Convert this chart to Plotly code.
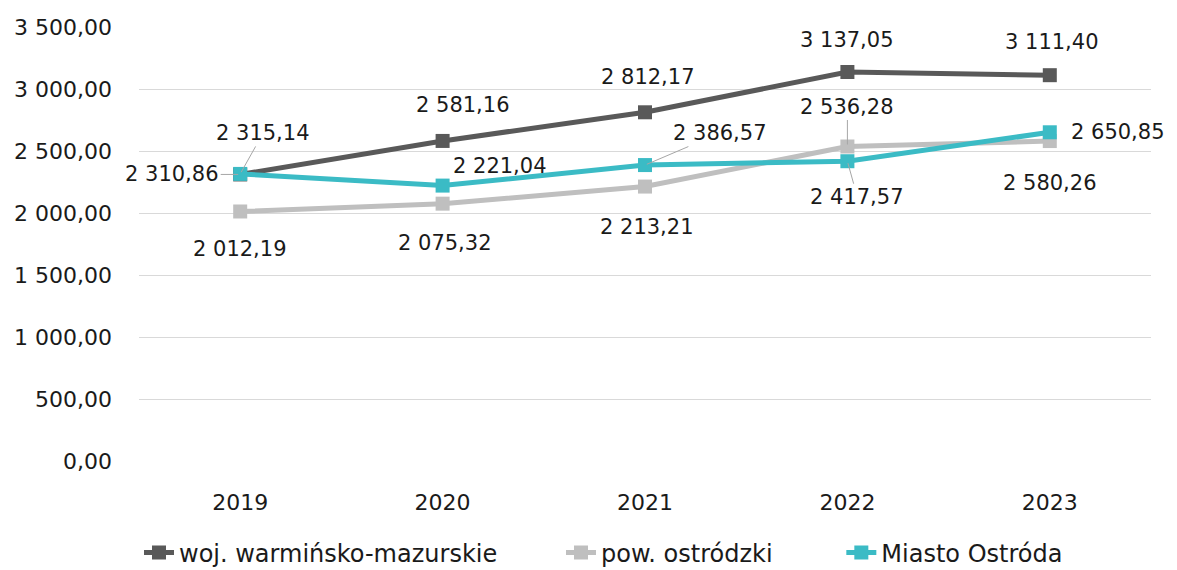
import plotly.graph_objects as go

years = ["2019", "2020", "2021", "2022", "2023"]
woj = [2310.86, 2581.16, 2812.17, 3137.05, 3111.40]
pow_ = [2012.19, 2075.32, 2213.21, 2536.28, 2580.26]
miasto = [2315.14, 2221.04, 2386.57, 2417.57, 2650.85]
names = ["woj. warmińsko-mazurskie", "pow. ostródzki", "Miasto Ostróda"]

colors = ["#595959", "#BFBFBF", "#3BBBC5"]
FONT = "DejaVu Sans"
FS = 21

def fmt(v):
    s = f"{v:,.2f}"
    return s.replace(",", " ").replace(".", ",")

legend_ids = ["legend", "legend2", "legend3"]
legend_x = [0.0, 0.417, 0.694]

fig = go.Figure()
for name, vals, col, lid in zip(names, [woj, pow_, miasto], colors, legend_ids):
    fig.add_trace(go.Scatter(
        x=years, y=vals, name=name, mode="lines+markers",
        line=dict(color=col, width=5),
        marker=dict(symbol="square", size=14, color=col),
        legend=lid,
    ))

# label offsets (dx, dy in px, leader)
offsets = {
    0: [(-68, 0, True), (20, -36, False), (3, -35, False), (0, -32, False), (2, -33, False)],
    1: [(0, 38, False), (2, 39, False), (2, 40, False), (0, -40, True), (0, 42, False)],
    2: [(23, -41, True), (57, -20, False), (75, -32, True), (10, 36, True), (68, 0, False)],
}
annotations = []
for si, vals in enumerate([woj, pow_, miasto]):
    for i, v in enumerate(vals):
        dx, dy, leader = offsets[si][i]
        if leader:
            annotations.append(dict(x=i, y=v, xref="x", yref="y", text=fmt(v),
                                    showarrow=True, ax=dx, ay=dy, arrowhead=0,
                                    arrowwidth=1, arrowcolor="#A6A6A6", standoff=2,
                                    font=dict(family=FONT, size=FS, color="#1a1a1a")))
        else:
            annotations.append(dict(x=i, y=v, xref="x", yref="y", text=fmt(v),
                                    showarrow=False, xshift=dx, yshift=-dy,
                                    font=dict(family=FONT, size=FS, color="#1a1a1a")))

legend_common = dict(orientation="h", xanchor="left", y=-0.16, yanchor="top",
                     font=dict(size=24), bgcolor="rgba(0,0,0,0)")

fig.update_layout(
    width=1169, height=562,
    margin=dict(l=131, r=26, t=19, b=109, autoexpand=False),
    paper_bgcolor="white", plot_bgcolor="white",
    separators=", ",
    font=dict(family=FONT, size=FS, color="#1a1a1a"),
    xaxis=dict(type="category", range=[-0.5, 4.5], showgrid=False, showline=False, ticks="",
               tickfont=dict(size=22), ticklabelstandoff=26, automargin=False),
    yaxis=dict(range=[0, 3500], dtick=500, tickformat=",.2f", gridcolor="#D9D9D9",
               gridwidth=1, zeroline=False, showline=False, ticks="", ticklen=0,
               tickfont=dict(size=22), ticklabelstandoff=26, automargin=False),
    legend=dict(x=legend_x[0], **legend_common),
    legend2=dict(x=legend_x[1], **legend_common),
    legend3=dict(x=legend_x[2], **legend_common),
    annotations=annotations,
    showlegend=True,
)
fig.write_html("out.html")
